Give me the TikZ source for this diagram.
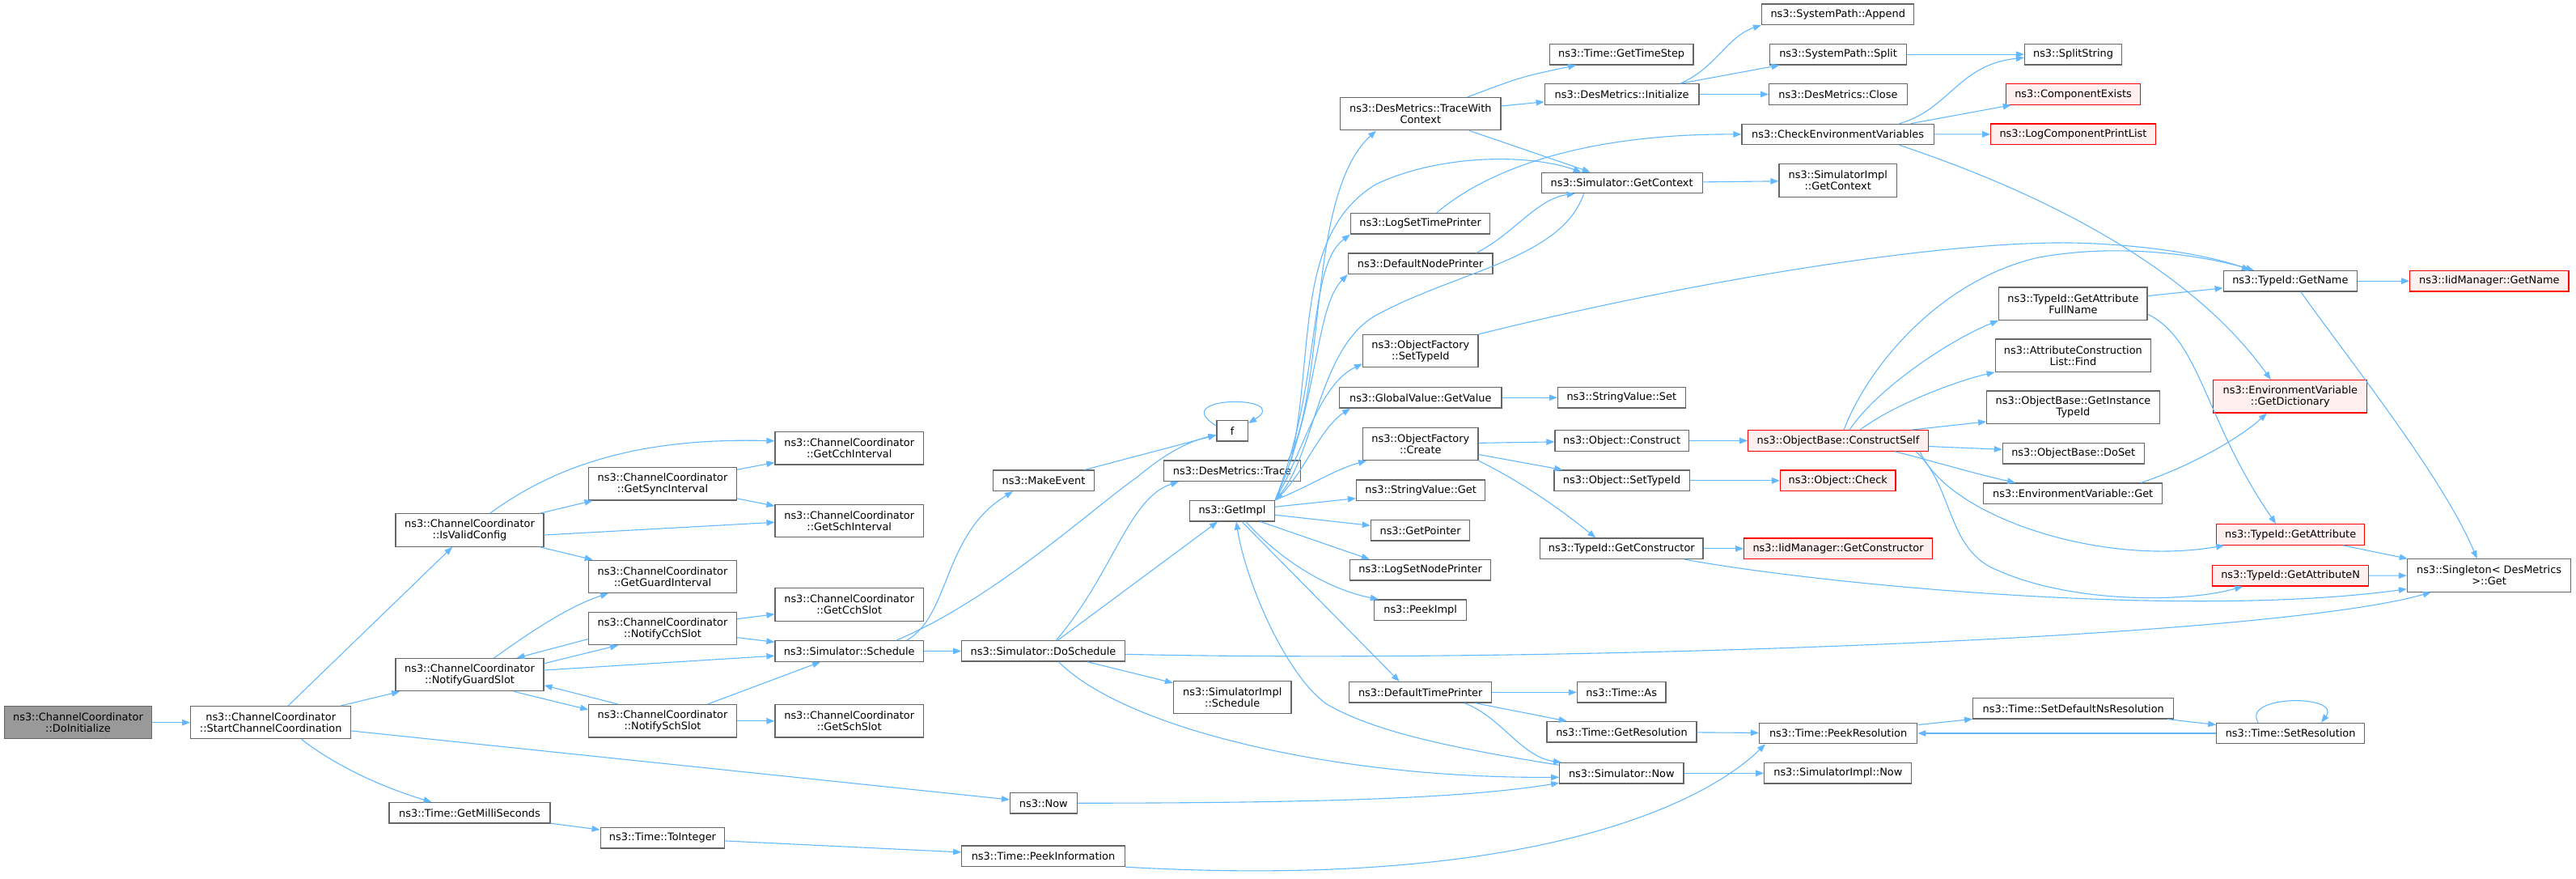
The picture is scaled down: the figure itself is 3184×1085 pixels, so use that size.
\documentclass[tikz,border=0pt]{standalone}
\usepackage{fontspec}
\setmainfont{DejaVu Sans}
\usepackage{tikz}
\usetikzlibrary{arrows.meta}
\definecolor{edgeblue}{HTML}{63B8FF}
\definecolor{nodegray}{HTML}{666666}
\definecolor{rootgray}{HTML}{999999}
\definecolor{hotred}{HTML}{FF0000}
\definecolor{hotfill}{HTML}{FFF0F0}

\begin{document}
\begin{tikzpicture}[x=1pt, y=-1pt,
  fn/.style={draw=nodegray, fill=white, line width=1.2pt, inner sep=0pt, align=center, minimum height=25.5pt, font=\fontsize{12.9}{14}\selectfont},
  tall/.style={minimum height=40.3pt},
  root/.style={fn, fill=rootgray},
  hot/.style={fn, draw=hotred, fill=hotfill},
  call/.style={draw=edgeblue, line width=1.1pt, -{Triangle[length=10pt, width=7.5pt]}}]
\useasboundingbox (0,0) rectangle (3184,1085);

\node[root, tall, minimum width=182.7pt] at (96.5,892.7) (DoInit) {ns3::ChannelCoordinator\\::DoInitialize};
\node[fn, tall, minimum width=198pt] at (334.7,892.7) (Start) {ns3::ChannelCoordinator\\::StartChannelCoordination};
\node[fn, tall, minimum width=183pt] at (580.5,655) (IsValid) {ns3::ChannelCoordinator\\::IsValidConfig};
\node[fn, tall, minimum width=183pt] at (580.5,833.7) (NotifyGuard) {ns3::ChannelCoordinator\\::NotifyGuardSlot};
\node[fn, minimum width=199pt] at (580.5,1004.2) (GetMilli) {ns3::Time::GetMilliSeconds};
\node[fn, tall, minimum width=182.6pt] at (819,597.8) (SyncInt) {ns3::ChannelCoordinator\\::GetSyncInterval};
\node[fn, tall, minimum width=182.6pt] at (819,712.3) (GuardInt) {ns3::ChannelCoordinator\\::GetGuardInterval};
\node[fn, tall, minimum width=182.6pt] at (819,776.5) (NotifyCch) {ns3::ChannelCoordinator\\::NotifyCchSlot};
\node[fn, tall, minimum width=182.6pt] at (819,890.8) (NotifySch) {ns3::ChannelCoordinator\\::NotifySchSlot};
\node[fn, minimum width=153.7pt] at (819,1035.2) (ToInt) {ns3::Time::ToInteger};
\node[fn, tall, minimum width=183.4pt] at (1049.7,553.8) (CchInt) {ns3::ChannelCoordinator\\::GetCchInterval};
\node[fn, tall, minimum width=183.4pt] at (1049.7,643.3) (SchInt) {ns3::ChannelCoordinator\\::GetSchInterval};
\node[fn, tall, minimum width=183.4pt] at (1049.7,747) (CchSlot) {ns3::ChannelCoordinator\\::GetCchSlot};
\node[fn, minimum width=183.4pt] at (1049.7,804.5) (Sched) {ns3::Simulator::Schedule};
\node[fn, tall, minimum width=183.4pt] at (1049.7,890.8) (SchSlot) {ns3::ChannelCoordinator\\::GetSchSlot};
\node[fn, minimum width=125.5pt] at (1290,593.8) (MakeEvent) {ns3::MakeEvent};
\node[fn, minimum width=201.5pt] at (1289.5,804.3) (DoSched) {ns3::Simulator::DoSchedule};
\node[fn, minimum width=82.6pt] at (1289.8,992.3) (Now) {ns3::Now};
\node[fn, minimum width=201.5pt] at (1289.5,1057.8) (PeekInfo) {ns3::Time::PeekInformation};
\node[fn, minimum width=38.4pt] at (1523.2,532.3) (f) {f};
\node[fn, minimum width=169pt] at (1523,581.7) (Trace) {ns3::DesMetrics::Trace};
\node[fn, minimum width=105pt] at (1523,631.2) (GetImpl) {ns3::GetImpl};
\node[fn, tall, minimum width=145.4pt] at (1523.2,861.7) (ImplSched) {ns3::SimulatorImpl\\::Schedule};
\node[fn, tall, minimum width=198.5pt] at (1755.8,140.7) (TraceCtx) {ns3::DesMetrics::TraceWith\\Context};
\node[fn, minimum width=172.4pt] at (1755.6,276.3) (LogTime) {ns3::LogSetTimePrinter};
\node[fn, minimum width=178.6pt] at (1755.6,325.8) (NodePrinter) {ns3::DefaultNodePrinter};
\node[fn, tall, minimum width=142.3pt] at (1755.8,433.7) (OFSetTypeId) {ns3::ObjectFactory\\::SetTypeId};
\node[fn, minimum width=200.5pt] at (1755.8,491.3) (GVGetValue) {ns3::GlobalValue::GetValue};
\node[fn, tall, minimum width=142.3pt] at (1755.8,548.5) (OFCreate) {ns3::ObjectFactory\\::Create};
\node[fn, minimum width=159.2pt] at (1756.1,605.7) (SVGet) {ns3::StringValue::Get};
\node[fn, minimum width=122.4pt] at (1755.6,655.3) (GetPointer) {ns3::GetPointer};
\node[fn, minimum width=174.5pt] at (1755.6,704.3) (LogNode) {ns3::LogSetNodePrinter};
\node[fn, minimum width=114.3pt] at (1755.6,753.7) (PeekImpl) {ns3::PeekImpl};
\node[fn, minimum width=176.2pt] at (1755.7,855.3) (TimePrinter) {ns3::DefaultTimePrinter};
\node[fn, minimum width=177.6pt] at (2004.1,67.2) (TimeStep) {ns3::Time::GetTimeStep};
\node[fn, minimum width=190.8pt] at (2004.6,116.5) (Init) {ns3::DesMetrics::Initialize};
\node[fn, minimum width=199pt] at (2004.6,226) (GetCtx) {ns3::Simulator::GetContext};
\node[fn, minimum width=157.7pt] at (2004.3,491.3) (SVSet) {ns3::StringValue::Set};
\node[fn, minimum width=165.3pt] at (2004.6,544.5) (Construct) {ns3::Object::Construct};
\node[fn, minimum width=167.4pt] at (2004.6,593.8) (ObjSetTypeId) {ns3::Object::SetTypeId};
\node[fn, minimum width=201.5pt] at (2004.3,677.8) (GetCtor) {ns3::TypeId::GetConstructor};
\node[fn, minimum width=109.6pt] at (2004.2,855.3) (TimeAs) {ns3::Time::As};
\node[fn, minimum width=184.9pt] at (2004.5,904.3) (GetRes) {ns3::Time::GetResolution};
\node[fn, minimum width=153.3pt] at (2004.3,955.3) (SimNow) {ns3::Simulator::Now};
\node[fn, minimum width=188.3pt] at (2271.7,17.7) (Append) {ns3::SystemPath::Append};
\node[fn, minimum width=168.3pt] at (2272,67.2) (Split) {ns3::SystemPath::Split};
\node[fn, minimum width=170.4pt] at (2271.9,116.5) (Close) {ns3::DesMetrics::Close};
\node[fn, minimum width=237.3pt] at (2271.6,166) (CheckEnv) {ns3::CheckEnvironmentVariables};
\node[fn, tall, minimum width=145.4pt] at (2271.7,223) (ImplCtx) {ns3::SimulatorImpl\\::GetContext};
\node[hot, minimum width=222.5pt] at (2272,544.5) (ConstructSelf) {ns3::ObjectBase::ConstructSelf};
\node[hot, minimum width=142.4pt] at (2271.7,593.8) (Check) {ns3::Object::Check};
\node[hot, minimum width=232.7pt] at (2272,677.8) (IidCtor) {ns3::IidManager::GetConstructor};
\node[fn, minimum width=195.2pt] at (2272.1,906) (PeekRes) {ns3::Time::PeekResolution};
\node[fn, minimum width=182pt] at (2271.8,955.3) (ImplNow) {ns3::SimulatorImpl::Now};
\node[fn, minimum width=120.1pt] at (2562.5,67.2) (SplitString) {ns3::SplitString};
\node[hot, minimum width=166.3pt] at (2562.5,116.5) (CompExists) {ns3::ComponentExists};
\node[hot, minimum width=203.5pt] at (2562.5,165.8) (LogCompList) {ns3::LogComponentPrintList};
\node[fn, tall, minimum width=183.3pt] at (2562.4,375.2) (AttrFullName) {ns3::TypeId::GetAttribute\\FullName};
\node[fn, tall, minimum width=192.3pt] at (2562.4,439.2) (AttrFind) {ns3::AttributeConstruction\\List::Find};
\node[fn, tall, minimum width=213.7pt] at (2562.5,503.2) (InstTypeId) {ns3::ObjectBase::GetInstance\\TypeId};
\node[fn, minimum width=174.8pt] at (2562.7,560.3) (DoSet) {ns3::ObjectBase::DoSet};
\node[fn, minimum width=221pt] at (2562.2,609.8) (EnvGet) {ns3::EnvironmentVariable::Get};
\node[fn, minimum width=248.1pt] at (2562.7,875.2) (SetDefRes) {ns3::Time::SetDefaultNsResolution};
\node[fn, minimum width=165.2pt] at (2830.8,347.2) (GetName) {ns3::TypeId::GetName};
\node[hot, tall, minimum width=190pt] at (2830.8,489.8) (GetDict) {ns3::EnvironmentVariable\\::GetDictionary};
\node[hot, minimum width=182.6pt] at (2831.1,660.5) (GetAttr) {ns3::TypeId::GetAttribute};
\node[hot, minimum width=192.8pt] at (2831.1,711.3) (GetAttrN) {ns3::TypeId::GetAttributeN};
\node[fn, minimum width=182.6pt] at (2831.1,906) (SetRes) {ns3::Time::SetResolution};
\node[hot, minimum width=196.2pt] at (3076.9,347.2) (IidName) {ns3::IidManager::GetName};
\node[fn, tall, minimum width=202.4pt] at (3076.6,711) (Singleton) {ns3::Singleton< DesMetrics\\>::Get};

\draw[call] (DoInit) -- (Start);
\draw[call] (Start) -- (IsValid);
\draw[call] (Start) -- (NotifyGuard);
\draw[call] ([xshift=38pt]Start.south) .. controls (420,950) and (480,975) .. ([xshift=-47pt]GetMilli.north);
\draw[call] (Start) -- (Now);
\draw[call] ([xshift=25pt]IsValid.north) .. controls (680,580) and (780,540) .. ([yshift=9pt]CchInt.west);
\draw[call] (IsValid) -- (SyncInt);
\draw[call] ([yshift=-6pt]IsValid.east) -- ([yshift=-2pt]SchInt.west);
\draw[call] (IsValid) -- (GuardInt);
\draw[call] (SyncInt) -- (CchInt);
\draw[call] (SyncInt) -- (SchInt);
\draw[call] ([xshift=30pt]NotifyGuard.north) .. controls (650,785) and (700,750) .. ([xshift=-67pt]GuardInt.south);
\draw[call] ([yshift=14pt]NotifyGuard.east) -- ([xshift=37pt]NotifyCch.south west);
\draw[call] ([yshift=-13pt]NotifyCch.west) -- ([xshift=58pt]NotifyGuard.north);
\draw[call] ([xshift=55pt]NotifyGuard.south) -- ([yshift=14pt]NotifySch.west);
\draw[call] ([xshift=37pt]NotifySch.north west) -- ([yshift=-13pt]NotifyGuard.east);
\draw[call] (NotifyGuard) -- (Sched);
\draw[call] (NotifyCch) -- (CchSlot);
\draw[call] (NotifyCch) -- (Sched);
\draw[call] (NotifySch) -- (SchSlot);
\draw[call] (NotifySch) -- (Sched);
\draw[call] (GetMilli) -- (ToInt);
\draw[call] (ToInt) -- (PeekInfo);
\draw[call] (PeekInfo.south east) .. controls (1900,1100) and (2110,990) .. ([xshift=8pt]PeekRes.south west);
\draw[call] (Sched) -- (DoSched);
\draw[call] ([xshift=71pt]Sched.north) .. controls (1175,760) and (1165,660) .. ([xshift=-38pt]MakeEvent.south);
\draw[call] ([xshift=58pt]Sched.north) .. controls (1230,740) and (1360,620) .. (1405,590) .. controls (1440,560) and (1470,545) .. ([yshift=-5pt]f.west);
\draw[call] (MakeEvent) -- (f);
\draw[call] ([yshift=-7pt]f.north west) .. controls (1440,488) and (1600,488) .. ([yshift=-4pt]f.north east);
\draw[call] ([xshift=16pt]DoSched.north) .. controls (1375,710) and (1395,615) .. ([xshift=-66pt]Trace.south);
\draw[call] (DoSched) -- (GetImpl);
\draw[call] (DoSched) -- (ImplSched);
\draw[call] ([xshift=19pt]DoSched.south) .. controls (1390,900) and (1650,962) .. ([yshift=-5pt]SimNow.west);
\draw[call] ([yshift=-4pt]DoSched.east) .. controls (1900,820) and (2800,790) .. ([xshift=30pt]Singleton.south west);
\draw[call] (Now) .. controls (1600,992) and (1800,988) .. ([yshift=-12pt]SimNow.west);
\draw[call] ([xshift=-16pt]Trace.north east) .. controls (1640,480) and (1615,240) .. ([xshift=45pt]TraceCtx.south west);
\draw[call] ([xshift=-12pt]Trace.north east) .. controls (1625,430) and (1600,290) .. (1700,228) .. controls (1780,190) and (1890,190) .. ([xshift=-50pt]GetCtx.north);
\draw[call] (GetImpl.north east) .. controls (1635,470) and (1615,330) .. (LogTime.south west);
\draw[call] (GetImpl.north east) .. controls (1630,500) and (1625,380) .. (NodePrinter.south west);
\draw[call] (GetImpl.north east) .. controls (1610,560) and (1630,475) .. ([yshift=5pt]OFSetTypeId.south west);
\draw[call] (GetImpl.north east) .. controls (1610,590) and (1630,530) .. ([xshift=14pt]GVGetValue.south west);
\draw[call] (GetImpl.north east) .. controls (1620,600) and (1650,580) .. ([xshift=5pt]OFCreate.south west);
\draw[call] ([yshift=5pt]GetImpl.east) -- ([yshift=-10pt]SVGet.west);
\draw[call] ([yshift=-5pt]GetImpl.east) -- ([yshift=6pt]GetPointer.west);
\draw[call] ([xshift=35pt]GetImpl.south) -- ([xshift=25pt]LogNode.north west);
\draw[call] ([xshift=17pt]GetImpl.south) .. controls (1590,700) and (1650,730) .. ([xshift=6pt]PeekImpl.north west);
\draw[call] ([xshift=12pt]GetImpl.south) -- ([xshift=-26pt]TimePrinter.north);
\draw[call] ([xshift=-47pt]GetCtx.south) .. controls (1930,320) and (1800,335) .. (1700,390) .. controls (1630,430) and (1625,560) .. (GetImpl.north east);
\draw[call] ([yshift=10pt]SimNow.west) .. controls (1800,925) and (1700,905) .. (1640,870) .. controls (1590,835) and (1540,720) .. ([xshift=5pt]GetImpl.south);
\draw[call] (TimePrinter) -- (TimeAs);
\draw[call] (TimePrinter) -- (GetRes);
\draw[call] ([xshift=54pt]TimePrinter.south) .. controls (1855,885) and (1880,935) .. ([xshift=3pt]SimNow.north west);
\draw[call] (GetRes) -- (PeekRes);
\draw[call] (SimNow) -- (ImplNow);
\draw[call] (PeekRes) -- (SetDefRes);
\draw[call] (SetDefRes) -- (SetRes);
\draw[call] (SetRes) -- (PeekRes);
\draw[call] ([xshift=-40pt]SetRes.north) .. controls (2770,858) and (2895,858) .. ([xshift=38pt]SetRes.north);
\draw[call] (GVGetValue) -- (SVSet);
\draw[call] (OFCreate) -- (Construct);
\draw[call] (OFCreate) -- (ObjSetTypeId);
\draw[call] (OFCreate.south east) .. controls (1880,595) and (1930,630) .. ([xshift=-32pt]GetCtor.north);
\draw[call] (Construct) -- (ConstructSelf);
\draw[call] (ObjSetTypeId) -- (Check);
\draw[call] (GetCtor) -- (IidCtor);
\draw[call] ([xshift=78pt]GetCtor.south) .. controls (2250,722) and (2700,765) .. ([yshift=4pt]Singleton.south west);
\draw[call] (OFSetTypeId.north east) .. controls (2100,345) and (2400,298) .. (2560,300) .. controls (2660,302) and (2740,318) .. ([xshift=-50pt]GetName.north);
\draw[call] ([xshift=7pt]ConstructSelf.north) .. controls (2310,450) and (2400,345) .. (2520,318) .. controls (2620,300) and (2720,315) .. ([xshift=-45pt]GetName.north);
\draw[call] ([xshift=14pt]ConstructSelf.north) .. controls (2320,480) and (2410,420) .. (AttrFullName.south west);
\draw[call] ([xshift=27pt]ConstructSelf.north) .. controls (2340,500) and (2420,470) .. (AttrFind.south west);
\draw[call] ([xshift=90pt]ConstructSelf.north) -- ([yshift=3pt]InstTypeId.south west);
\draw[call] ([yshift=-7pt]ConstructSelf.east) -- ([yshift=5pt]DoSet.west);
\draw[call] ([xshift=70pt]ConstructSelf.south) .. controls (2390,570) and (2440,585) .. ([xshift=40pt]EnvGet.north west);
\draw[call] ([xshift=101pt]ConstructSelf.south) .. controls (2410,640) and (2600,700) .. ([xshift=10pt]GetAttr.south west);
\draw[call] ([xshift=96pt]ConstructSelf.south) .. controls (2415,600) and (2405,680) .. (2470,705) .. controls (2560,745) and (2700,745) .. ([xshift=38pt]GetAttrN.south west);
\draw[call] (AttrFullName) -- (GetName);
\draw[call] ([yshift=-13pt]AttrFullName.east) .. controls (2720,420) and (2725,520) .. ([xshift=-18pt]GetAttr.north);
\draw[call] (GetName) -- (IidName);
\draw[call] ([xshift=13pt]GetName.south) .. controls (2900,440) and (3020,590) .. ([xshift=-15pt]Singleton.north);
\draw[call] (GetAttr) -- (Singleton);
\draw[call] (GetAttrN) -- (Singleton);
\draw[call] ([xshift=76pt]CheckEnv.south) .. controls (2500,230) and (2700,320) .. ([xshift=-24pt]GetDict.north);
\draw[call] ([xshift=84pt]EnvGet.north) .. controls (2710,575) and (2770,540) .. ([xshift=-29pt]GetDict.south);
\draw[call] ([xshift=76pt]CheckEnv.north) .. controls (2410,135) and (2420,80) .. ([yshift=-4pt]SplitString.west);
\draw[call] ([xshift=90pt]CheckEnv.north) -- ([xshift=7pt]CompExists.south west);
\draw[call] (CheckEnv) -- (LogCompList);
\draw[call] (Split) -- (SplitString);
\draw[call] ([xshift=72pt]Init.north) .. controls (2120,85) and (2135,45) .. (Append.south west);
\draw[call] (Init) -- (Split);
\draw[call] (Init) -- (Close);
\draw[call] ([xshift=58pt]TraceCtx.north) .. controls (1880,95) .. ([xshift=-56pt]TimeStep.south);
\draw[call] (TraceCtx) -- (Init);
\draw[call] (TraceCtx) -- (GetCtx);
\draw[call] (GetCtx) -- (ImplCtx);
\draw[call] ([xshift=20pt]LogTime.north) .. controls (1850,200) and (1980,165) .. (CheckEnv.west);
\draw[call] ([xshift=69pt]NodePrinter.north) .. controls (1870,290) and (1900,245) .. ([xshift=-58pt]GetCtx.south);
\end{tikzpicture}
\end{document}
